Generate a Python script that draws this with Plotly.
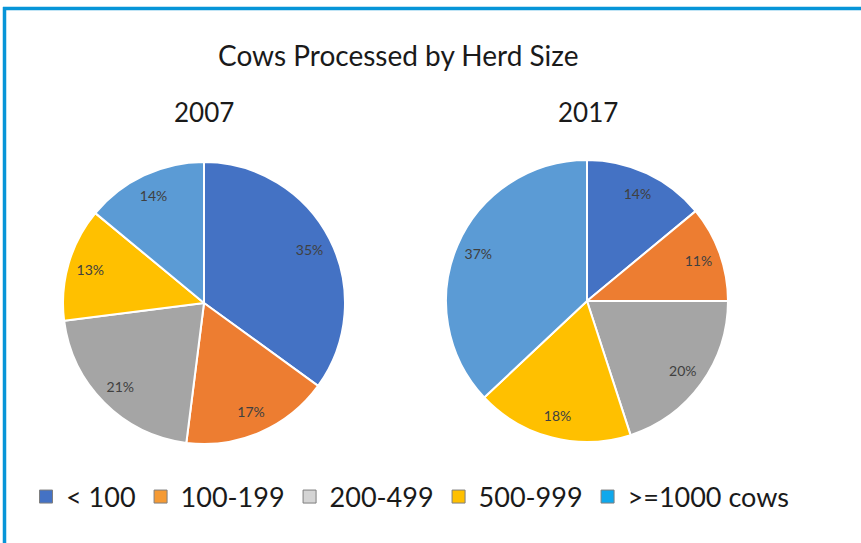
import plotly.graph_objects as go

W, H = 861, 543

title = "Cows Processed by Herd Size"
years = ["2007", "2017"]
categories = ["< 100", "100-199", "200-499", "500-999", ">=1000 cows"]
values_2007 = [35, 17, 21, 13, 14]
values_2017 = [14, 11, 20, 18, 37]
slice_colors = ["#4472C4", "#ED7D31", "#A5A5A5", "#FFC000", "#5B9BD5"]
legend_colors = ["#4472C4", "#F59A34", "#D4D4D4", "#FFC000", "#0FA8EC"]

FONT = "Lato"

# pixel geometry -> paper
def px_x(x):
    return x / W

def px_y(y):
    return 1 - y / H

fig = go.Figure()

domains = [
    dict(x=[px_x(63), px_x(345)], y=[px_y(444), px_y(162)]),
    dict(x=[px_x(446), px_x(728)], y=[px_y(442), px_y(160)]),
]

for vals, dom in zip([values_2007, values_2017], domains):
    # coloured slices
    fig.add_trace(go.Pie(
        labels=categories,
        values=vals,
        sort=False,
        direction="clockwise",
        rotation=0,
        domain=dom,
        marker=dict(colors=slice_colors, line=dict(color="white", width=2)),
        textinfo="none",
        showlegend=False,
        hoverinfo="label+percent",
    ))
    # transparent ring carrying the percentage labels near the rim
    fig.add_trace(go.Pie(
        labels=categories,
        values=vals,
        sort=False,
        direction="clockwise",
        rotation=0,
        domain=dom,
        hole=0.68,
        marker=dict(colors=["rgba(0,0,0,0)"] * len(vals), line=dict(width=0)),
        texttemplate="%{value}%",
        textposition="inside",
        insidetextorientation="horizontal",
        textfont=dict(family=FONT, size=14, color="#404040"),
        showlegend=False,
        hoverinfo="skip",
    ))

for name, col in zip(categories, legend_colors):
    fig.add_trace(go.Scatter(
        x=[None], y=[None], mode="markers", name=name,
        marker=dict(symbol="square", size=13, color=col,
                    line=dict(color="#7F7F7F", width=1)),
    ))

fig.add_annotation(text=title, x=px_x(398), y=px_y(55), xref="paper", yref="paper",
                   showarrow=False, font=dict(family=FONT, size=28, color="#1A1A1A"),
                   xanchor="center", yanchor="middle")
for yr, cx in zip(years, [204, 588]):
    fig.add_annotation(text=yr, x=px_x(cx), y=px_y(112), xref="paper", yref="paper",
                       showarrow=False, font=dict(family=FONT, size=26, color="#1A1A1A"),
                       xanchor="center", yanchor="middle")

# frame lines
fig.add_shape(type="line", xref="paper", yref="paper",
              x0=px_x(4.5), x1=px_x(4.5), y0=0, y1=px_y(7),
              line=dict(color="#0795D8", width=3.5))
fig.add_shape(type="line", xref="paper", yref="paper",
              x0=px_x(3), x1=1, y0=px_y(8.5), y1=px_y(8.5),
              line=dict(color="#0795D8", width=3.5))

fig.update_layout(
    width=W, height=H,
    margin=dict(l=0, r=0, t=0, b=0),
    paper_bgcolor="white", plot_bgcolor="white",
    xaxis=dict(visible=False), yaxis=dict(visible=False),
    legend=dict(orientation="h", x=px_x(26), y=px_y(497), xanchor="left", yanchor="middle",
                font=dict(family=FONT, size=27, color="#1A1A1A"),
                bgcolor="rgba(0,0,0,0)", itemwidth=30, traceorder="normal"),
)

fig.write_html("out.html")
